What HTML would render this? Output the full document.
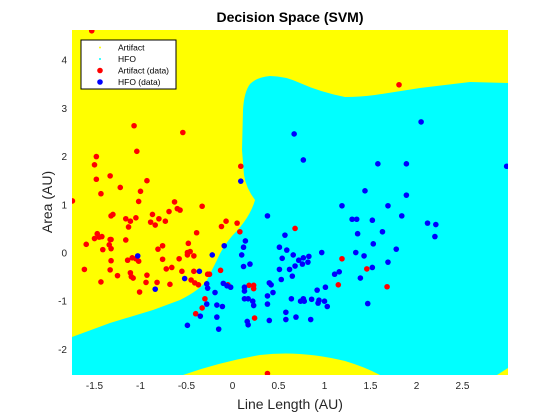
<!DOCTYPE html>
<html><head><meta charset="utf-8"><style>
html,body{margin:0;padding:0;background:#fff;}
svg{display:block;font-family:"Liberation Sans",Arial,sans-serif;}
</style></head><body>
<svg id="chart" width="560" height="420" viewBox="0 0 560 420">
<defs><clipPath id="pc"><rect x="72" y="30" width="436" height="345"/></clipPath></defs>
<g clip-path="url(#pc)">
<rect x="72" y="30" width="436" height="345" fill="#ffff00"/>
<path fill="#00ffff" d="M72,337 L110,323 L153,310 L180,300 Q200,290 207,280 L217,260 Q222,248 232,236 Q250,218 255,200 Q246,188 244,175 L242,150 L243,110 Q244,92 250,84 Q257,77 270,76 Q285,76 300,83 Q320,92 345,97 Q360,97 375,95 L420,88 L470,82 L508,83 L508,368 L497,375 L380,375 Q365,367 345,361 Q300,350 260,355 Q220,362 183,375 L72,375 Z"/>
</g>
<g id="points" clip-path="url(#pc)"></g>
<g id="axes"></g>
<text x="290" y="22" text-anchor="middle" font-size="14" font-weight="bold" fill="#000">Decision Space (SVM)</text>
<text x="290" y="409" text-anchor="middle" font-size="14" fill="#262626">Line Length (AU)</text>
<text transform="translate(52,202) rotate(-90)" text-anchor="middle" font-size="14" fill="#262626">Area (AU)</text>
<g>
<rect x="81" y="40" width="95" height="49" fill="#fff" stroke="#000" stroke-width="1"/>
<g><circle cx="100" cy="47.5" r="1" fill="#ffff00"/><text x="118" y="50.5" font-size="8.5" fill="#000">Artifact</text></g>
<g><circle cx="100" cy="59" r="1" fill="#00ffff"/><text x="118" y="62" font-size="8.5" fill="#000">HFO</text></g>
<g><circle cx="100" cy="70.5" r="2.8" fill="#ff0000"/><text x="118" y="73.5" font-size="8.5" fill="#000">Artifact (data)</text></g>
<g><circle cx="100" cy="82" r="2.8" fill="#0000ff"/><text x="118" y="85" font-size="8.5" fill="#000">HFO (data)</text></g>
</g>
</svg>
<script>
const xTicks=[-1.5,-1,-0.5,0,0.5,1,1.5,2,2.5];
const xTickLabels=["-1.5","-1","-0.5","0","0.5","1","1.5","2","2.5"];
const yTicks=[-2,-1,0,1,2,3,4];
const yTickLabels=["-2","-1","0","1","2","3","4"];
const artifactX=[-1.53,-1.07,-0.54,-1.48,-1.04,-1.50,-1.33,-1.48,-0.93,-1.22,-1.00,-1.43,-1.74,-1.02,-0.63,-0.69,-0.60,-0.57,-0.87,-1.30,-1.32,-1.16,-1.05,-1.11,-0.80,-0.89,-0.73,-0.84,-1.13,-1.47,-1.50,-1.45,-1.42,-1.33,-1.32,-1.16,-1.59,-1.34,-0.48,-1.41,-1.32,-0.81,-0.76,-0.49,-0.49,-1.32,-1.14,-1.09,-1.05,-1.02,-0.76,-0.58,-1.61,-1.33,-0.72,-0.66,-0.55,-1.11,-1.10,-1.08,-1.25,-0.93,-1.43,-0.94,-0.82,-0.68,-1.01,0.09,-0.33,-0.07,0.05,-0.12,-0.39,0.08,-0.46,-0.42,-0.42,-0.27,-0.25,-0.13,-0.45,-0.41,-0.37,0.18,0.23,0.23,-0.05,-0.30,-0.33,-0.40,0.24,0.68,1.81,1.19,1.46,1.15,1.68,0.38];
const artifactY=[4.61,2.64,2.50,2.00,2.11,1.83,1.60,1.53,1.50,1.36,1.28,1.23,1.08,1.07,1.06,0.86,0.92,0.89,0.80,0.80,0.77,0.71,0.73,0.66,0.71,0.64,0.66,0.58,0.54,0.40,0.30,0.33,0.34,0.28,0.28,0.27,0.18,0.17,0.20,0.07,0.09,0.08,0.15,0.01,-0.04,-0.16,-0.15,-0.10,-0.12,-0.17,-0.13,-0.12,-0.34,-0.35,-0.33,-0.30,-0.38,-0.41,-0.49,-0.52,-0.47,-0.46,-0.60,-0.61,-0.61,-0.65,-0.81,1.80,0.97,0.66,0.62,0.55,0.42,0.44,0.03,-0.06,-0.38,-0.44,-0.44,-0.36,-0.56,-0.62,-0.66,-0.67,-0.67,-0.74,-0.66,-0.95,-1.14,-1.26,-1.35,0.51,3.49,-0.12,-0.33,-0.66,-0.70,-2.50];
const hfoX=[0.09,0.38,0.57,0.14,0.12,0.51,0.59,-0.09,-0.22,0.10,0.54,0.66,0.19,0.12,0.51,0.62,0.65,0.53,-0.36,-0.52,-0.28,-0.27,-0.10,-0.06,-0.02,0.13,0.13,0.40,0.42,0.44,-0.19,0.13,0.17,0.22,0.23,0.38,0.38,0.64,-0.28,-0.17,-0.11,0.58,-0.35,-0.17,0.40,0.16,0.17,0.58,-0.49,-0.15,0.67,0.77,2.05,2.98,1.58,1.89,1.44,1.89,1.19,1.69,1.84,1.30,1.35,1.52,2.12,2.21,2.20,1.36,1.63,1.53,1.78,1.34,1.43,1.69,1.52,0.97,0.83,0.77,0.72,0.82,0.76,0.68,1.16,1.11,1.39,1.01,0.92,0.74,0.77,0.78,0.86,0.94,0.93,1.00,1.03,1.47,0.69,0.85,-1.03,-0.84];
const hfoY=[1.49,0.77,0.37,0.25,0.12,0.12,0.06,0.15,-0.04,-0.04,-0.11,-0.04,-0.23,-0.28,-0.34,-0.34,-0.48,-0.55,-0.38,-0.53,-0.64,-0.73,-0.63,-0.68,-0.71,-0.71,-0.79,-0.62,-0.66,-0.82,-0.82,-0.95,-0.95,-1.00,-1.09,-0.89,-1.06,-0.95,-1.06,-1.08,-1.11,-1.23,-1.31,-1.33,-1.40,-1.42,-1.49,-1.38,-1.50,-1.58,2.47,1.93,2.72,1.80,1.85,1.85,1.29,1.20,0.98,0.98,0.77,0.70,0.70,0.68,0.62,0.59,0.34,0.40,0.44,0.19,0.08,0.01,-0.06,-0.19,-0.30,0.01,-0.07,-0.10,-0.15,-0.19,-0.23,-0.27,-0.39,-0.44,-0.52,-0.71,-0.77,-1.00,-0.95,-1.00,-0.96,-0.98,-1.04,-1.00,-1.11,-1.05,-1.33,-1.38,-0.06,-0.75];

const NS='http://www.w3.org/2000/svg';
function sx(v){return 232.5+v*92;}
function sy(v){return 253-v*48.2;}
const pts=document.getElementById('points');
function dots(xs,ys,color,name){
  for(let i=0;i<xs.length;i++){
    const c=document.createElementNS(NS,'circle');
    c.setAttribute('cx',sx(xs[i]));c.setAttribute('cy',sy(ys[i]));
    c.setAttribute('r',2.8);c.setAttribute('fill',color);
    
    
    pts.appendChild(c);
  }
}
dots(artifactX,artifactY,'#ff0000','artifact-point');
dots(hfoX,hfoY,'#0000ff','hfo-point');
const ax=document.getElementById('axes');
xTicks.forEach((v,i)=>{
  const t=document.createElementNS(NS,'text');
  t.setAttribute('x',sx(v));t.setAttribute('y',389);
  t.setAttribute('text-anchor','middle');t.setAttribute('font-size','10');t.setAttribute('fill','#262626');
  t.textContent=xTickLabels[i];
  
  
  ax.appendChild(t);
});
yTicks.forEach((v,i)=>{
  const t=document.createElementNS(NS,'text');
  t.setAttribute('x',67);t.setAttribute('y',sy(v)+3.5);
  t.setAttribute('text-anchor','end');t.setAttribute('font-size','10');t.setAttribute('fill','#262626');
  t.textContent=yTickLabels[i];
  
  
  ax.appendChild(t);
});
</script>
</body></html>
